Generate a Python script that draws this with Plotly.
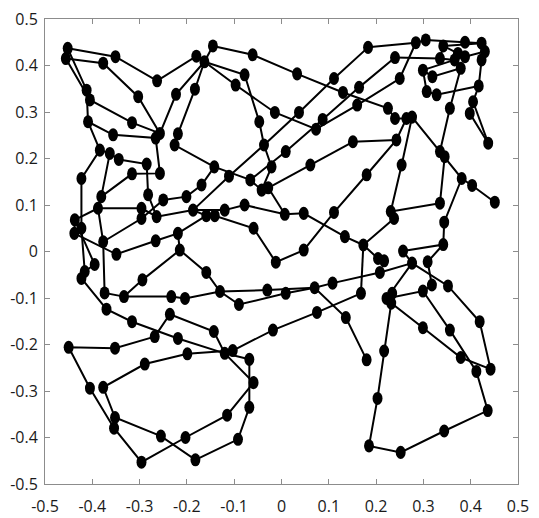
import plotly.graph_objects as go

# Node coordinates of the network
node_x = [
    -0.452, -0.456, -0.377, -0.351, -0.263, -0.180, -0.163, -0.145, -0.412, -0.405,
    -0.303, -0.223, -0.183, -0.409, -0.316, -0.356, -0.257, -0.266, -0.219, -0.226,
    -0.384, -0.363, -0.344, -0.285, -0.316, -0.257, -0.423, -0.142, -0.061, -0.078,
    -0.097, 0.033, 0.183, 0.111, 0.130, 0.164, 0.160, -0.014, 0.037, -0.047,
    0.087, 0.073, -0.037, 0.009, 0.151, -0.021, 0.061, -0.111, -0.066, 0.180,
    0.284, 0.305, 0.342, 0.388, 0.423, 0.430, 0.373, 0.388, 0.366, 0.379,
    0.335, 0.423, 0.240, 0.299, 0.319, 0.250, 0.307, 0.328, 0.417, 0.225,
    0.240, 0.264, 0.276, 0.356, 0.405, 0.398, 0.437, 0.243, 0.335, 0.345,
    0.254, 0.381, 0.403, 0.451, 0.335, 0.231, 0.238, 0.344, 0.342, 0.173,
    0.257, 0.204, 0.217, 0.309, 0.276, 0.208, 0.168, 0.318, 0.299, 0.352,
    0.222, 0.234, 0.232, 0.419, 0.299, 0.356, -0.042, -0.028, -0.169, -0.078,
    -0.120, -0.159, -0.141, 0.007, 0.047, 0.111, -0.059, 0.047, -0.012, 0.134,
    -0.159, -0.130, -0.090, -0.030, 0.009, 0.070, 0.108, 0.075, 0.136, -0.143,
    -0.018, -0.381, -0.388, -0.437, -0.438, -0.377, -0.349, -0.395, -0.423, -0.416,
    -0.374, -0.370, -0.333, -0.316, -0.294, -0.266, -0.219, -0.215, -0.233, -0.204,
    -0.236, -0.296, -0.296, -0.264, -0.282, -0.250, -0.201, -0.187, -0.450, -0.352,
    -0.268, -0.219, -0.289, -0.199, -0.405, -0.377, -0.352, -0.354, -0.255, -0.203,
    -0.296, -0.182, -0.120, -0.103, -0.068, -0.059, -0.068, -0.115, -0.092, 0.180,
    0.217, 0.203, 0.185, 0.252, 0.344, 0.436, 0.412, 0.442, 0.379, -0.423,
]
node_y = [
    0.437, 0.415, 0.405, 0.419, 0.367, 0.420, 0.408, 0.442, 0.347, 0.326,
    0.333, 0.338, 0.349, 0.279, 0.277, 0.251, 0.254, 0.244, 0.253, 0.229,
    0.218, 0.211, 0.198, 0.188, 0.167, 0.168, 0.157, 0.182, 0.423, 0.380,
    0.358, 0.382, 0.439, 0.372, 0.342, 0.353, 0.315, 0.299, 0.299, 0.279,
    0.284, 0.263, 0.229, 0.215, 0.236, 0.182, 0.186, 0.162, 0.154, 0.165,
    0.449, 0.455, 0.442, 0.450, 0.448, 0.430, 0.426, 0.419, 0.412, 0.394,
    0.415, 0.412, 0.417, 0.390, 0.376, 0.372, 0.344, 0.337, 0.356, 0.308,
    0.286, 0.286, 0.289, 0.308, 0.322, 0.297, 0.233, 0.240, 0.215, 0.204,
    0.186, 0.157, 0.142, 0.106, 0.104, 0.086, 0.071, 0.063, 0.015, 0.014,
    0.001, -0.015, -0.020, -0.022, -0.025, -0.045, -0.090, -0.072, -0.085, -0.074,
    -0.101, -0.090, -0.111, -0.151, -0.164, -0.169, 0.132, 0.137, 0.143, 0.100,
    0.089, 0.077, 0.077, 0.080, 0.082, 0.084, 0.050, 0.003, -0.023, 0.032,
    -0.045, -0.086, -0.114, -0.083, -0.090, -0.078, -0.068, -0.131, -0.142, -0.172,
    -0.169, 0.118, 0.093, 0.068, 0.039, 0.021, -0.006, -0.028, -0.058, -0.043,
    -0.089, -0.124, -0.097, -0.151, -0.061, 0.023, 0.039, 0.003, -0.097, -0.101,
    -0.135, 0.093, 0.071, 0.075, 0.122, 0.111, 0.118, 0.089, -0.206, -0.208,
    -0.183, -0.187, -0.242, -0.220, -0.294, -0.292, -0.357, -0.380, -0.397, -0.400,
    -0.453, -0.448, -0.219, -0.213, -0.232, -0.282, -0.335, -0.352, -0.404, -0.233,
    -0.214, -0.316, -0.418, -0.432, -0.386, -0.342, -0.258, -0.253, -0.228, 0.050,
]

# Connected runs of nodes (indices into node_x / node_y)
chains = [
    [1, 2, 10, 16, 11, 6],
    [0, 3, 4, 5, 6],
    [0, 8, 13, 15, 17, 25, 24, 131],
    [1, 9, 14, 16],
    [13, 20, 26, 189, 139],
    [20, 21, 22, 23, 154, 153],
    [21, 131, 132, 135, 140, 142, 148, 149, 121, 123, 125, 126, 95, 94],
    [147, 120, 121, 122, 124, 125, 128, 179],
    [12, 6], [12, 18, 19, 27], [7, 6],
    [7, 28, 31, 34, 69, 70, 71, 72, 81, 82, 83],
    [6, 29, 39, 42, 45, 106],
    [32, 33, 38, 42, 47, 157],
    [62, 35, 40, 43, 48],
    [27, 48, 106],
    [6, 30, 37, 41, 36, 65, 50],
    [44, 46, 107], [44, 77], [71, 77, 49],
    [32, 50, 51, 53, 54, 55, 61, 68, 74, 75, 76], [74, 76],
    [52, 54], [60, 52, 56, 57, 55],
    [62, 60, 58, 63, 66, 67, 68],
    [58, 59, 64, 63],
    [59, 73, 78, 79, 84],
    [84, 85, 86, 89, 91, 92],
    [89, 96],
    [72, 80, 85],
    [81, 87, 88, 90, 94],
    [88, 93, 97, 98],
    [94, 99, 103],
    [94, 100, 98, 105],
    [100, 101, 102, 104],
    [102, 180, 181, 182, 183, 184, 185, 186, 105],
    [104, 188, 187, 103],
    [96, 127, 130, 173],
    [109, 113, 114, 119, 89],
    [107, 113],
    [132, 151, 153, 157, 110, 109],
    [157, 111, 112, 116, 118, 117, 115, 49],
    [135, 152, 155, 156, 108, 27],
    [132, 133, 134, 136, 145, 146, 111],
    [133, 137, 139, 138, 141, 143, 161, 172],
    [142, 144, 147, 146],
    [160, 150, 129, 172],
    [160, 159, 158, 164, 167, 170, 169, 177, 175, 172],
    [172, 174, 176, 178, 171, 168, 166, 165, 162, 163, 173],
]

tick_vals = [-0.5, -0.4, -0.3, -0.2, -0.1, 0.0, 0.1, 0.2, 0.3, 0.4, 0.5]
tick_text = ["-0.5", "-0.4", "-0.3", "-0.2", "-0.1", "0", "0.1", "0.2", "0.3", "0.4", "0.5"]

# Polyline coordinates for all chains, separated by gaps
line_x, line_y = [], []
for chain in chains:
    line_x += [node_x[i] for i in chain] + [None]
    line_y += [node_y[i] for i in chain] + [None]

fig = go.Figure()
fig.add_trace(go.Scatter(
    x=line_x, y=line_y, mode="lines",
    line=dict(color="black", width=2),
    hoverinfo="skip", showlegend=False,
))

# Nodes drawn as filled ellipses (slightly taller than wide)
rx, ry = 0.0105, 0.0140
shapes = [
    dict(type="circle", xref="x", yref="y",
         x0=x - rx, x1=x + rx, y0=y - ry, y1=y + ry,
         fillcolor="black", line=dict(width=0), layer="above")
    for x, y in zip(node_x, node_y)
]

axis_common = dict(
    range=[-0.5, 0.5], tickvals=tick_vals, ticktext=tick_text,
    ticks="inside", ticklen=5, tickcolor="#8c8c8c", tickwidth=1,
    showline=True, linecolor="#8c8c8c", linewidth=1, mirror="ticks",
    showgrid=False, zeroline=False, automargin=False,
    tickfont=dict(family="Open Sans", size=16, color="#1a1a1a"),
    fixedrange=True,
)

fig.update_layout(
    width=539, height=518,
    margin=dict(l=45, r=21, t=19, b=34),
    paper_bgcolor="white", plot_bgcolor="white",
    xaxis=dict(axis_common, ticklabelstandoff=8),
    yaxis=dict(axis_common, ticklabelstandoff=3),
    shapes=shapes,
)

fig.write_html("out.html")
